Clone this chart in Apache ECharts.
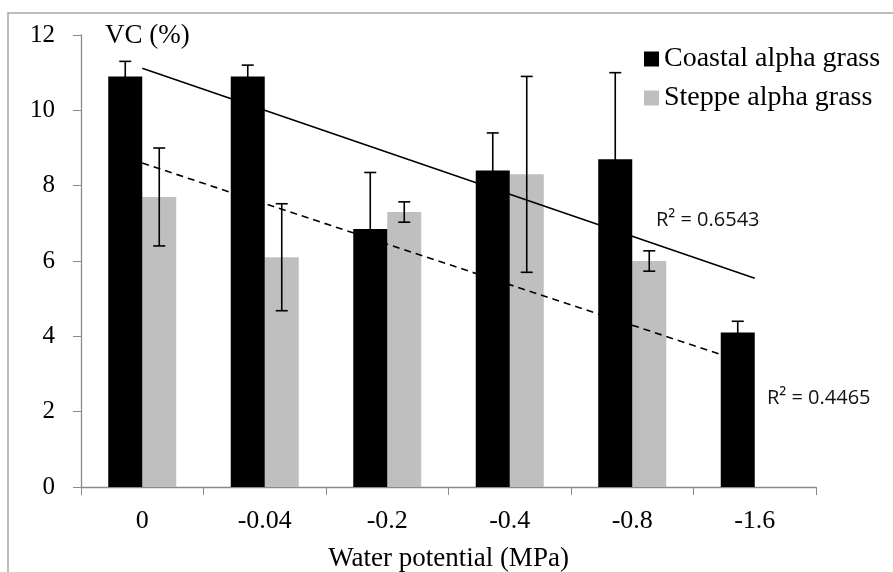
<!DOCTYPE html>
<html lang="en">
<head>
    <meta charset="UTF-8">
    <title>VC by water potential</title>
    <script src="https://cdn.jsdelivr.net/npm/echarts@6/dist/echarts.min.js"></script>
    <style>
        html, body { margin: 0; padding: 0; background: #fff; }
        #chart { width: 893px; height: 572px; }
    </style>
</head>
<body>
<div id="chart"></div>
<script>
    // values
    var potentials = ['0', '-0.04', '-0.2', '-0.4', '-0.8', '-1.6'];
    var coastal = [10.9, 10.9, 6.85, 8.4, 8.7, 4.1];
    var coastalErr = [0.4, 0.3, 1.5, 1.0, 2.3, 0.3];
    var steppe = [7.7, 6.1, 7.3, 8.3, 6.0, 0];
    var steppeErr = [1.3, 1.42, 0.27, 2.6, 0.27, 0];
    // trend line ends (first and last category)
    var coastalTrend = [11.12, 5.54];
    var steppeTrend = [8.6, 3.22];
    var yTicks = [0, 2, 4, 6, 8, 10, 12];

    var serif = '"Liberation Serif", "DejaVu Serif", serif';
    var barW = 34;

    var chart = echarts.init(document.getElementById('chart'));

    function errorSeries(vals, errs, side, z) {
        var data = vals.map(function (v, i) { return [i, v, errs[i]]; });
        return {
            type: 'custom',
            z: z,
            silent: true,
            data: data,
            encode: { x: 0, y: 1 },
            renderItem: function (params, api) {
                var i = api.value(0), v = api.value(1), e = api.value(2);
                if (!e) return null;
                var hi = api.coord([i, v + e]);
                var lo = api.coord([i, v - e]);
                var x = hi[0] + side * barW / 2;
                var cap = 6;
                var st = { stroke: '#000', lineWidth: 1.6 };
                return {
                    type: 'group',
                    children: [
                        { type: 'line', shape: { x1: x, y1: hi[1], x2: x, y2: lo[1] }, style: st },
                        { type: 'line', shape: { x1: x - cap, y1: hi[1], x2: x + cap, y2: hi[1] }, style: st },
                        { type: 'line', shape: { x1: x - cap, y1: lo[1], x2: x + cap, y2: lo[1] }, style: st }
                    ]
                };
            }
        };
    }

    chart.setOption({
        animation: false,
        grid: { left: 81, right: 77, top: 35, bottom: 85, outerBoundsMode: 'none', containLabel: false },
        legend: {
            data: ['Coastal alpha grass', 'Steppe alpha grass'],
            orient: 'vertical',
            left: 639,
            top: 40,
            icon: 'rect',
            itemWidth: 15,
            itemHeight: 15,
            itemGap: 11,
            textStyle: { fontFamily: serif, fontSize: 28, color: '#000' }
        },
        xAxis: {
            type: 'category',
            data: potentials,
            name: 'Water potential (MPa)',
            nameLocation: 'middle',
            nameGap: 58,
            nameTextStyle: { fontFamily: serif, fontSize: 27, color: '#000' },
            axisLine: { lineStyle: { color: '#8a8a8a', width: 1.3 } },
            axisTick: { show: true, length: 8, lineStyle: { color: '#8a8a8a' } },
            axisLabel: { fontFamily: serif, fontSize: 26, color: '#000', margin: 21 }
        },
        yAxis: {
            type: 'value',
            min: yTicks[0],
            max: yTicks[yTicks.length - 1],
            interval: 2,
            splitLine: { show: false },
            axisLine: { show: true, lineStyle: { color: '#8a8a8a', width: 1.3 } },
            axisTick: { show: true, length: 8, lineStyle: { color: '#8a8a8a' } },
            axisLabel: { fontFamily: serif, fontSize: 25, color: '#000', margin: 26 }
        },
        graphic: [
            {
                type: 'rect',
                shape: { x: 8, y: 13, width: 950, height: 650 },
                style: { fill: 'none', stroke: '#a6a6a6', lineWidth: 1.5 },
                silent: true
            },
            {
                type: 'text',
                left: 105, top: 22,
                style: { text: 'VC (%)', fontFamily: serif, fontSize: 27, fill: '#000' }
            },
            {
                type: 'text',
                left: 656, top: 210,
                style: { text: 'R² = 0.6543', fontFamily: '"Open Sans", "Noto Sans", sans-serif', fontSize: 20, fill: '#111' }
            },
            {
                type: 'text',
                left: 767, top: 388,
                style: { text: 'R² = 0.4465', fontFamily: '"Open Sans", "Noto Sans", sans-serif', fontSize: 20, fill: '#111' }
            }
        ],
        series: [
            {
                name: 'Coastal alpha grass',
                type: 'bar',
                z: 3,
                barWidth: barW,
                barGap: '0%',
                itemStyle: { color: '#000' },
                data: coastal
            },
            {
                name: 'Steppe alpha grass',
                type: 'bar',
                z: 1,
                barWidth: barW,
                barGap: '0%',
                itemStyle: { color: '#bfbfbf' },
                data: steppe
            },
            {
                type: 'line',
                z: 2,
                symbol: 'none',
                silent: true,
                lineStyle: { color: '#000', width: 1.6 },
                data: [[potentials[0], coastalTrend[0]], [potentials[5], coastalTrend[1]]]
            },
            {
                type: 'line',
                z: 2,
                symbol: 'none',
                silent: true,
                lineStyle: { color: '#000', width: 1.6, type: [7, 5] },
                data: [[potentials[0], steppeTrend[0]], [potentials[5], steppeTrend[1]]]
            },
            errorSeries(coastal, coastalErr, -1, 4),
            errorSeries(steppe, steppeErr, 1, 4)
        ]
    });
</script>
</body>
</html>
